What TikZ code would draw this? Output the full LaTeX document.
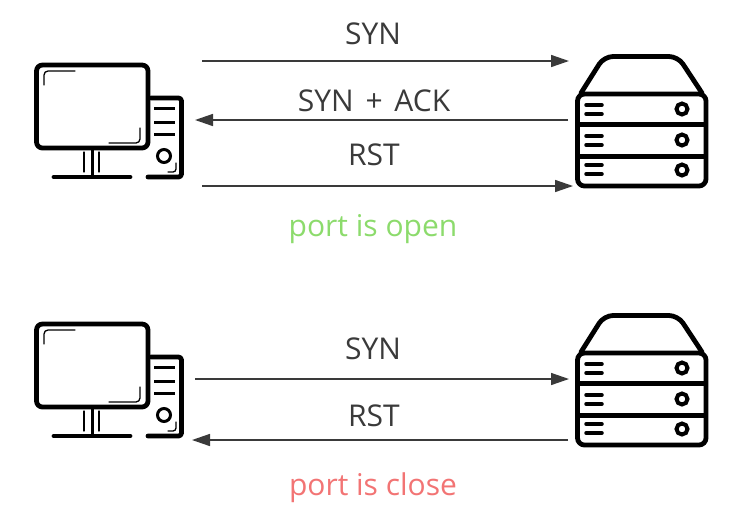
\documentclass[tikz,border=0pt]{standalone}
\usepackage{fontspec}
\setmainfont{Open Sans}
\usetikzlibrary{arrows.meta}
\definecolor{linegray}{HTML}{3A3A3A}
\definecolor{opengreen}{HTML}{8CDB6C}
\definecolor{closered}{HTML}{F27474}
\tikzset{
    msg/.style={draw=linegray,line width=1.5pt,-{Triangle[length=18pt,width=12pt]}},
    lbl/.style={text=linegray,font=\fontsize{30}{30}\selectfont,inner sep=0pt},
    bold/.style={line width=4.8pt,line cap=round,line join=round},
    fine/.style={line width=1.3pt,line cap=round},
    pics/computer/.style={code={
        % monitor and highlights
        \draw[bold,rounded corners=6pt] (36.5,65) rectangle (148,148);
        \draw[fine,rounded corners=4pt] (75,71) -- (44,71) -- (44,85);
        \draw[fine,rounded corners=4pt] (109,143) -- (140,143) -- (140,128);
        % stand
        \draw[fine] (84,152) -- (84,172);
        \draw[fine] (99,152) -- (99,172);
        \draw[line width=3pt] (92,150) -- (92,176);
        \draw[bold] (54,177) -- (130,177);
        % tower
        \draw[bold,rounded corners=3pt] (151,98) -- (181.5,98) -- (181.5,177) -- (148,177);
        \foreach \y in {108,122,134}
            \draw[line width=3pt] (154,\y) -- (175,\y);
        \draw[line width=3pt] (164,156) circle (6.5);
        \draw[fine,rounded corners=3pt] (176,163) -- (176,172) -- (168,172);
    }},
    pics/server/.style={code={
        % lid and case
        \draw[bold,rounded corners=9pt] (581,93) -- (604,56.5) -- (678,56.5) -- (702,93);
        \draw[bold,rounded corners=7pt] (577.5,94) rectangle (706,186);
        \foreach \y in {124,156}
            \draw[line width=5pt] (577.5,\y) -- (706,\y);
        % drive bays
        \foreach \a/\b/\c in {105/114/109,136/145/140,165/174/170}{
            \draw[line width=3.5pt,line cap=round] (586,\a) -- (602,\a);
            \draw[line width=3.5pt,line cap=round] (586,\b) -- (602,\b);
            \draw[line width=4pt] (682,\c) circle (5.5);
        }
    }}
}
\begin{document}
\begin{tikzpicture}[x=1pt,y=-1pt]
    \useasboundingbox (0,0) rectangle (749,515);
    % open port
    \pic {computer};
    \pic {server};
    \coordinate (syna) at (202,61);
    \coordinate (synb) at (569,61);
    \coordinate (ackb) at (568,120);
    \coordinate (acka) at (195,120);
    \coordinate (rsta) at (202,186);
    \coordinate (rstb) at (573,186);
    \draw[msg] (syna) -- (synb);
    \draw[msg] (ackb) -- (acka);
    \draw[msg] (rsta) -- (rstb);
    \node[lbl] (syntop) at (373,34) {SYN};
    \node[lbl] (acktop) at (374,101) {SYN\hspace{4pt} + \hspace{4pt}ACK};
    \node[lbl] (rsttop) at (374,155) {RST};
    \node[lbl,text=opengreen] (opentxt) at (373,229) {port is open};
    % closed port
    \begin{scope}[yshift=-259pt]
        \pic {computer};
        \pic {server};
    \end{scope}
    \coordinate (sync) at (195,379);
    \coordinate (synd) at (569,379);
    \coordinate (rstd) at (568,440);
    \coordinate (rstc) at (192,440);
    \draw[msg] (sync) -- (synd);
    \draw[msg] (rstd) -- (rstc);
    \node[lbl] (synlow) at (373,349) {SYN};
    \node[lbl] (rstlow) at (374,416) {RST};
    \node[lbl,text=closered] (closetxt) at (373,488) {port is close};
\end{tikzpicture}
\end{document}
